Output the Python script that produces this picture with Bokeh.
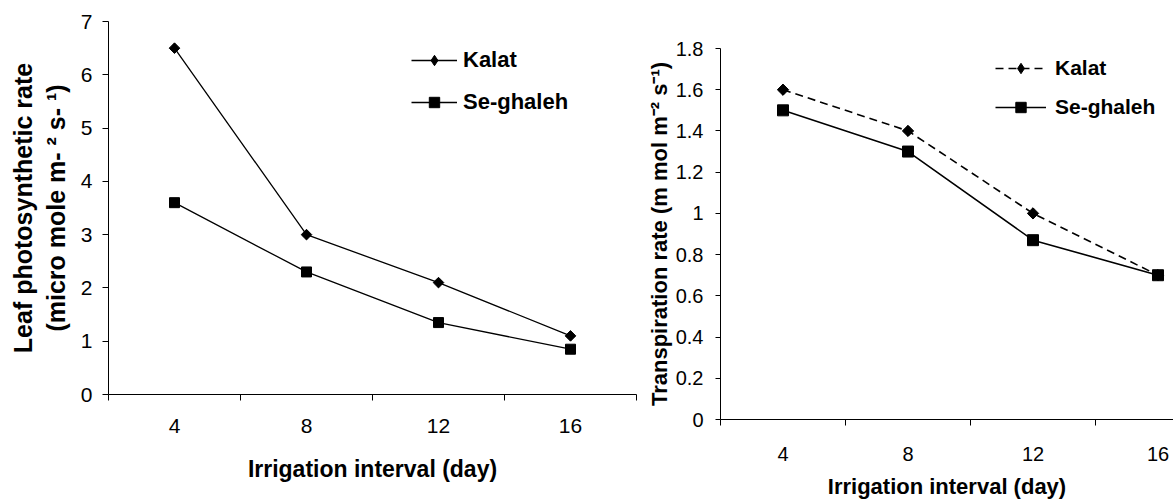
import math
from bokeh.plotting import figure
from bokeh.models import Range1d, FixedTicker, LinearAxis, Legend, LegendItem, Spacer
from bokeh.layouts import row, column
from bokeh.embed import file_html
from bokeh.resources import INLINE

# ---------------- data ----------------
intervals = [4, 8, 12, 16]
interval_labels = ["4", "8", "12", "16"]
category_edges = [2, 6, 10, 14, 18]

photo_kalat = [6.5, 3.0, 2.1, 1.1]
photo_seghaleh = [3.6, 2.3, 1.35, 0.85]
photo_yticks = [0, 1, 2, 3, 4, 5, 6, 7]

trans_kalat = [1.6, 1.4, 1.0, 0.7]
trans_seghaleh = [1.5, 1.3, 0.87, 0.7]
trans_yticks = [0, 0.2, 0.4, 0.6, 0.8, 1, 1.2, 1.4, 1.6, 1.8]
trans_ytick_labels = ["0", "0.2", "0.4", "0.6", "0.8", "1", "1.2", "1.4", "1.6", "1.8"]

series_names = ["Kalat", "Se-ghaleh"]

FONT = "Liberation Sans"


def style_common(p):
    p.outline_line_color = None
    p.xgrid.grid_line_color = None
    p.ygrid.grid_line_color = None
    p.background_fill_color = "white"
    p.border_fill_color = "white"
    for ax in p.axis:
        ax.axis_line_color = "black"
        ax.axis_line_width = 1
        ax.major_label_text_font = FONT
        ax.major_label_text_color = "black"
        ax.axis_label_text_font = FONT
        ax.axis_label_text_color = "black"
        ax.axis_label_text_font_style = "bold"


# ---------------- left chart ----------------
p1 = figure(width=643, height=494, output_backend="svg", toolbar_location=None,
            x_range=Range1d(2, 18), y_range=Range1d(0, 7),
            min_border_left=108, min_border_right=7,
            min_border_top=21, min_border_bottom=100)
style_common(p1)

xa = p1.xaxis[0]
xa.ticker = FixedTicker(ticks=intervals, minor_ticks=category_edges)
xa.major_label_overrides = {t: s for t, s in zip(intervals, interval_labels)}
xa.major_tick_line_color = None
xa.major_tick_in = 0
xa.major_tick_out = 0
xa.minor_tick_line_color = "black"
xa.minor_tick_in = 0
xa.minor_tick_out = 6
xa.major_label_text_font_size = "21px"
xa.major_label_standoff = 18
xa.axis_label = "Irrigation interval (day)"
xa.axis_label_text_font_size = "23px"
xa.axis_label_standoff = 20

ya = p1.yaxis[0]
ya.ticker = FixedTicker(ticks=photo_yticks)
ya.major_tick_in = 0
ya.major_tick_out = 6
ya.major_tick_line_color = "black"
ya.minor_tick_line_color = None
ya.major_label_text_font_size = "21px"
ya.major_label_standoff = 10
ya.axis_label = "(micro mole m- \u00b2 s- \u00b9)"
ya.axis_label_text_font_size = "25px"
ya.axis_label_standoff = 8

outer = LinearAxis(ticker=FixedTicker(ticks=[]), axis_label="Leaf photosynthetic rate",
                   axis_line_color=None, major_tick_line_color=None,
                   minor_tick_line_color=None, major_tick_in=0, major_tick_out=0,
                   minor_tick_in=0, minor_tick_out=0,
                   axis_label_text_font=FONT, axis_label_text_font_size="25px",
                   axis_label_text_font_style="bold", axis_label_text_color="black",
                   axis_label_standoff=2)
p1.add_layout(outer, "left")

l1k = p1.line(intervals, photo_kalat, line_color="black", line_width=1.3)
# narrow diamond (used as legend key) hidden under the square-shaped diamond
k1_key = p1.scatter(intervals, photo_kalat, marker="diamond", size=9,
                    fill_color="black", line_color="black")
p1.scatter(intervals, photo_kalat, marker="square", angle=math.pi / 4, size=7.5,
           fill_color="black", line_color="black")
l1s = p1.line(intervals, photo_seghaleh, line_color="black", line_width=1.3)
s1s = p1.scatter(intervals, photo_seghaleh, marker="square", size=10,
                 fill_color="black", line_color="black")

leg1 = Legend(items=[LegendItem(label=series_names[0], renderers=[l1k, k1_key]),
                     LegendItem(label=series_names[1], renderers=[l1s, s1s])],
              location=(303, 279), orientation="vertical",
              border_line_color=None, background_fill_alpha=0,
              padding=0, margin=0, spacing=16,
              glyph_width=46, glyph_height=26, label_height=26, label_standoff=6,
              label_text_font=FONT, label_text_font_size="22px",
              label_text_font_style="bold", label_text_color="black")
p1.add_layout(leg1)

# ---------------- right chart ----------------
x_end = 2 + 453 / 125 * 4
p2 = figure(width=530, height=500, output_backend="svg", toolbar_location=None,
            x_range=Range1d(2, x_end), y_range=Range1d(0, 1.8),
            min_border_left=77, min_border_right=0,
            min_border_top=47, min_border_bottom=78)
style_common(p2)

xb = p2.xaxis[0]
xb.ticker = FixedTicker(ticks=intervals, minor_ticks=category_edges)
xb.major_label_overrides = {t: s for t, s in zip(intervals, interval_labels)}
xb.major_tick_line_color = None
xb.major_tick_in = 0
xb.major_tick_out = 0
xb.minor_tick_line_color = "black"
xb.minor_tick_in = 0
xb.minor_tick_out = 6
xb.major_label_text_font_size = "20px"
xb.major_label_standoff = 21
xb.axis_label = "Irrigation interval (day)"
xb.axis_label_text_font_size = "22px"
xb.axis_label_standoff = 10

yb = p2.yaxis[0]
yb.ticker = FixedTicker(ticks=trans_yticks)
yb.major_label_overrides = {t: s for t, s in zip(trans_yticks, trans_ytick_labels)}
yb.major_tick_in = 0
yb.major_tick_out = 5
yb.major_tick_line_color = "black"
yb.minor_tick_line_color = None
yb.major_label_text_font_size = "20px"
yb.major_label_standoff = 12
yb.axis_label = "Transpiration rate (m mol m\u207b\u00b2 s\u207b\u00b9)"
yb.axis_label_text_font_size = "22px"
yb.axis_label_standoff = 1

l2k = p2.line(intervals, trans_kalat, line_color="black", line_width=1.6, line_dash="8 5")
k2_key = p2.scatter(intervals, trans_kalat, marker="diamond", size=10,
                    fill_color="black", line_color="black")
p2.scatter(intervals, trans_kalat, marker="square", angle=math.pi / 4, size=8,
           fill_color="black", line_color="black")
l2s = p2.line(intervals, trans_seghaleh, line_color="black", line_width=1.6)
s2s = p2.scatter(intervals, trans_seghaleh, marker="square", size=11,
                 fill_color="black", line_color="black")

leg2 = Legend(items=[LegendItem(label=series_names[0], renderers=[l2k, k2_key]),
                     LegendItem(label=series_names[1], renderers=[l2s, s2s])],
              location=(275, 299), orientation="vertical",
              border_line_color=None, background_fill_alpha=0,
              padding=0, margin=0, spacing=13,
              glyph_width=51, glyph_height=26, label_height=26, label_standoff=9,
              label_text_font=FONT, label_text_font_size="21px",
              label_text_font_style="bold", label_text_color="black")
p2.add_layout(leg2)

layout = row(p1, column(Spacer(width=530, height=1), p2))
open("out.html", "w").write(file_html(layout, INLINE))
